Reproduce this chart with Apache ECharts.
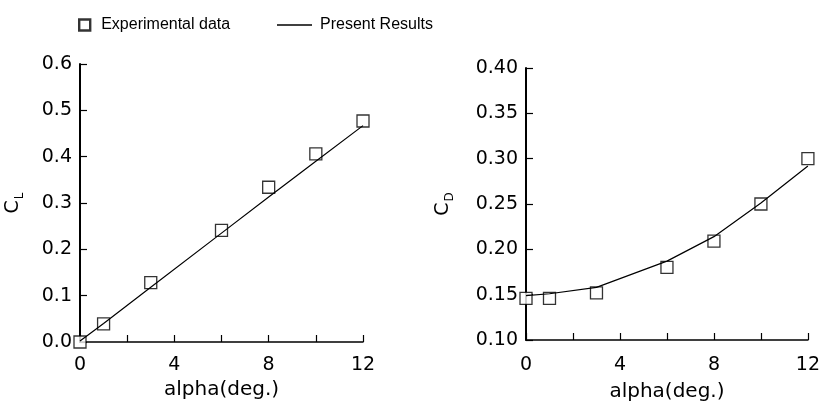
<!DOCTYPE html>
<html>
<head>
<meta charset="utf-8">
<script src="https://cdn.jsdelivr.net/npm/echarts@6/dist/echarts.min.js"></script>
<style>
    html, body { margin: 0; padding: 0; background: #fff; }
    #chart { width: 823px; height: 407px; }
</style>
</head>
<body>
<div id="chart"></div>
<script>
// angle of attack, deg
const alphaDeg = [0, 1, 3, 6, 8, 10, 12]
// lift coefficient
const clExperiment = [0.0, 0.039, 0.128, 0.241, 0.334, 0.406, 0.477]
const clPresent = [0.002, 0.04, 0.118, 0.235, 0.313, 0.39, 0.467]
// drag coefficient
const cdExperiment = [0.146, 0.146, 0.152, 0.18, 0.209, 0.25, 0.3]
const cdPresent = [0.149, 0.151, 0.158, 0.187, 0.214, 0.251, 0.292]
// tick labels
const xTickLabels = ["0", "4", "8", "12"]

const tickFont = "DejaVu Sans"
const legendFont = "'Liberation Sans', Arial, sans-serif"

function pairs(xs, ys) {
    return xs.map((x, i) => [x, ys[i]])
}

function xAxis(gridIndex, gap, labelMargin) {
    return {
        type: "value",
        gridIndex: gridIndex,
        min: 0,
        max: 12,
        interval: 2,
        name: "alpha(deg.)",
        nameLocation: "middle",
        nameGap: gap,
        nameTextStyle: { fontFamily: tickFont, fontSize: 20, color: "#000" },
        axisLine: { lineStyle: { color: "#000", width: 1.5 } },
        axisTick: { inside: true, length: 7, lineStyle: { color: "#000", width: 1.2 } },
        axisLabel: {
            margin: labelMargin,
            fontFamily: tickFont,
            fontSize: 19,
            color: "#000",
            formatter: (v) => (xTickLabels.indexOf(String(v)) >= 0 ? String(v) : ""),
        },
        splitLine: { show: false },
    }
}

function yAxis(gridIndex, min, max, step, digits, sub, gap) {
    return {
        type: "value",
        gridIndex: gridIndex,
        min: min,
        max: max,
        interval: step,
        name: "C{s|" + sub + "}",
        nameLocation: "middle",
        nameGap: gap,
        nameRotate: 90,
        nameTextStyle: {
            fontFamily: tickFont,
            fontSize: 19,
            color: "#000",
            rich: { s: { fontFamily: tickFont, fontSize: 12, color: "#000", padding: [13, 0, 0, 1] } },
        },
        axisLine: { lineStyle: { color: "#000", width: 2 } },
        axisTick: { inside: true, length: 7, lineStyle: { color: "#000", width: 1.2 } },
        axisLabel: {
            margin: 8,
            fontFamily: tickFont,
            fontSize: 19,
            color: "#000",
            formatter: (v) => v.toFixed(digits),
        },
        splitLine: { show: false },
    }
}

const squareStyle = { color: "#fff", borderColor: "#000", borderWidth: 1.3 }
const lineStyle = { color: "#000", width: 1.2 }

const chart = echarts.init(document.getElementById("chart"), null, { renderer: "canvas" })

const option = {
    animation: false,
    backgroundColor: "#fff",
    legend: [
        {
            left: 73,
            top: 12,
            itemWidth: 11,
            itemHeight: 11,
            data: [
                {
                    name: "Experimental data",
                    icon: "rect",
                    itemStyle: { color: "#fff", borderColor: "#000", borderWidth: 2.4 },
                },
            ],
            textStyle: { fontFamily: legendFont, fontSize: 16, color: "#000", padding: [0, 0, 0, 6] },
        },
        {
            left: 272,
            top: 12,
            itemWidth: 35,
            itemHeight: 1.4,
            data: [
                {
                    name: "Present Results",
                    icon: "rect",
                    itemStyle: { color: "#000", borderWidth: 0 },
                },
            ],
            textStyle: { fontFamily: legendFont, fontSize: 16, color: "#000", padding: [0, 0, 0, 3] },
        },
    ],
    grid: [
        { left: 80, top: 64, width: 283, height: 278 },
        { left: 526, top: 68, width: 283, height: 278 },
    ],
    xAxis: [xAxis(0, 38, 14), xAxis(1, 42, 16)],
    yAxis: [yAxis(0, 0, 0.6, 0.1, 1, "L", 54), yAxis(1, 0.1, 0.4, 0.05, 2, "D", 70)],
    series: [
        {
            name: "Present Results",
            type: "line",
            xAxisIndex: 0,
            yAxisIndex: 0,
            data: pairs(alphaDeg, clPresent),
            symbol: "none",
            lineStyle: lineStyle,
            itemStyle: { color: "#000" },
        },
        {
            name: "Present Results",
            type: "line",
            xAxisIndex: 1,
            yAxisIndex: 1,
            data: pairs(alphaDeg, cdPresent),
            symbol: "none",
            lineStyle: lineStyle,
            itemStyle: { color: "#000" },
        },
        {
            name: "Experimental data",
            type: "scatter",
            xAxisIndex: 0,
            yAxisIndex: 0,
            data: pairs(alphaDeg, clExperiment),
            symbol: "rect",
            symbolSize: 12,
            clip: false,
            itemStyle: squareStyle,
        },
        {
            name: "Experimental data",
            type: "scatter",
            xAxisIndex: 1,
            yAxisIndex: 1,
            data: pairs(alphaDeg, cdExperiment),
            symbol: "rect",
            symbolSize: 12,
            clip: false,
            itemStyle: squareStyle,
        },
    ],
}

chart.setOption(option)
</script>
</body>
</html>
